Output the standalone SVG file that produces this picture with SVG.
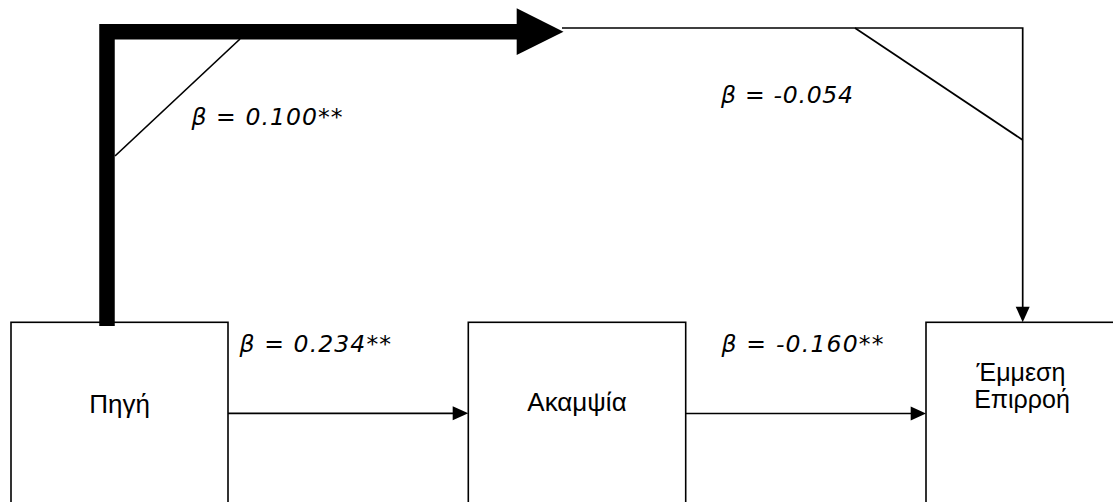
<svg xmlns="http://www.w3.org/2000/svg" width="1113" height="502" viewBox="0 0 1113 502">
<style>
.box{fill:#fff;stroke:#000;stroke-width:1.6}
.node{font-family:"Liberation Sans",Arial,sans-serif;font-size:26px;fill:#000;text-anchor:middle}
.node2{font-family:"Liberation Sans",Arial,sans-serif;font-size:25px;fill:#000;text-anchor:middle}
.lbl{font-family:"DejaVu Sans",Verdana,sans-serif;font-style:italic;font-size:23.5px;fill:#000}
.thin{fill:none;stroke:#000;stroke-width:1.7}
.head{fill:#000;stroke:none}
</style>
<rect width="1113" height="502" fill="#fff"/>
<g id="node-pigi">
<rect class="box" x="11" y="322.3" width="217" height="190"/>
<text class="node" x="119.5" y="413">Πηγή</text>
</g>
<g id="node-akampsia">
<rect class="box" x="468.3" y="322.3" width="217.4" height="190"/>
<text class="node" x="577" y="411">Ακαμψία</text>
</g>
<g id="node-emmesi">
<rect class="box" x="926" y="322.3" width="200" height="190"/>
<text class="node2" x="1021" y="381">Έμμεση</text>
<text class="node2" x="1022" y="408">Επιρροή</text>
</g>
<g id="connectors">
<polyline points="107,326 107,31.7 518,31.7" fill="none" stroke="#000" stroke-width="15.5" stroke-linejoin="miter"/>
<polygon class="head" points="516.7,8.3 563.5,31.7 516.7,55"/>
<polyline class="thin" points="562,28 1022.7,28 1022.7,308"/>
<polygon class="head" points="1015.7,306.7 1029.7,306.7 1022.7,322.3"/>
<line class="thin" x1="115" y1="156" x2="240" y2="39"/>
<line class="thin" x1="855" y1="28" x2="1022.7" y2="140"/>
<line class="thin" x1="228" y1="413.3" x2="454" y2="413.3"/>
<polygon class="head" points="452.7,406.3 468.3,413.3 452.7,420.3"/>
<line class="thin" x1="685.7" y1="413.5" x2="912" y2="413.5"/>
<polygon class="head" points="910.7,406.5 926,413.5 910.7,420.5"/>
</g>
<g id="labels">
<text class="lbl" x="191.5" y="125" textLength="151" lengthAdjust="spacing">β = 0.100**</text>
<text class="lbl" x="721" y="103" textLength="132" lengthAdjust="spacing">β = -0.054</text>
<text class="lbl" x="239.5" y="352" textLength="151.5" lengthAdjust="spacing">β = 0.234**</text>
<text class="lbl" x="721.5" y="352" textLength="162" lengthAdjust="spacing">β = -0.160**</text>
</g>
</svg>
